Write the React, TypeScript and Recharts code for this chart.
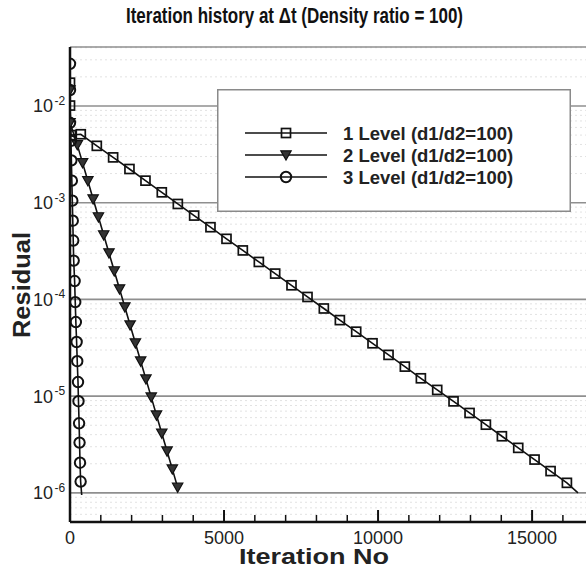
import React from 'react';
import { LineChart, Line, XAxis, YAxis, CartesianGrid, Legend } from 'recharts';

// ---- data ----
const level1Iter = [0, 0, 30, 350, 870, 1400, 1930, 2450, 2980, 3500, 4030, 4560, 5080, 5610, 6130, 6660, 7190, 7710, 8240, 8760, 9290, 9820, 10340, 10870, 11390, 11920, 12450, 12970, 13500, 14020, 14550, 15080, 15600, 16130, 16490];
const level1Res = [1.74e-2, 1.01e-2, 5.0e-3, 5.1e-3, 3.87e-3, 2.94e-3, 2.23e-3, 1.69e-3, 1.28e-3, 9.7e-4, 7.36e-4, 5.58e-4, 4.23e-4, 3.21e-4, 2.44e-4, 1.85e-4, 1.4e-4, 1.06e-4, 8.06e-5, 6.11e-5, 4.64e-5, 3.52e-5, 2.67e-5, 2.02e-5, 1.53e-5, 1.16e-5, 8.83e-6, 6.7e-6, 5.07e-6, 3.85e-6, 2.92e-6, 2.21e-6, 1.68e-6, 1.27e-6, 1.0e-6];

const level2Iter = [0, 0, 237, 408, 580, 751, 923, 1094, 1265, 1437, 1608, 1780, 1951, 2122, 2294, 2465, 2637, 2808, 2979, 3151, 3322, 3494];
const level2Res = [1.46e-2, 6.7e-3, 3.96e-3, 2.58e-3, 1.68e-3, 1.09e-3, 7.12e-4, 4.64e-4, 3.02e-4, 1.97e-4, 1.28e-4, 8.34e-5, 5.43e-5, 3.54e-5, 2.3e-5, 1.5e-5, 9.77e-6, 6.36e-6, 4.14e-6, 2.7e-6, 1.76e-6, 1.14e-6];

const level3Iter = [0, 0, 0, 30, 45, 60, 75, 90, 105, 120, 150, 170, 190, 215, 235, 260, 275, 295, 310, 325, 345, 380];
const level3Res = [2.73e-2, 1.46e-2, 6.7e-3, 4.36e-3, 2.74e-3, 1.69e-3, 1.05e-3, 6.52e-4, 4.06e-4, 2.52e-4, 1.55e-4, 9.38e-5, 5.84e-5, 3.63e-5, 2.3e-5, 1.4e-5, 8.87e-6, 5.24e-6, 3.31e-6, 2.05e-6, 1.31e-6, 9.5e-7];

const seriesNames = ['1 Level (d1/d2=100)', '2 Level (d1/d2=100)', '3 Level (d1/d2=100)'];

const xTicks = [0, 1000, 2000, 3000, 4000, 5000, 6000, 7000, 8000, 9000, 10000, 11000, 12000, 13000, 14000, 15000, 16000];
const xMajorTicks = [0, 5000, 10000, 15000];
const xMajorLabels = ['0', '5000', '10000', '15000'];

const yMajorTicks = [1e-6, 1e-5, 1e-4, 1e-3, 1e-2];
const yTickExponents = ['-6', '-5', '-4', '-3', '-2'];
const yMinorTicks = [
  6e-7, 7e-7, 8e-7, 9e-7,
  2e-6, 3e-6, 4e-6, 5e-6, 6e-6, 7e-6, 8e-6, 9e-6,
  2e-5, 3e-5, 4e-5, 5e-5, 6e-5, 7e-5, 8e-5, 9e-5,
  2e-4, 3e-4, 4e-4, 5e-4, 6e-4, 7e-4, 8e-4, 9e-4,
  2e-3, 3e-3, 4e-3, 5e-3, 6e-3, 7e-3, 8e-3, 9e-3,
  2e-2, 3e-2, 4e-2,
];

const xDomain = [0, 16750];
const yDomain = [5e-7, 0.0407];

const toPoints = (xs: number[], ys: number[]) => xs.map((x, i) => ({ x, y: ys[i] }));
const data1 = toPoints(level1Iter, level1Res);
const data2 = toPoints(level2Iter, level2Res);
const data3 = toPoints(level3Iter, level3Res);

const FONT = '"Liberation Sans", Arial, Helvetica, sans-serif';
const INK = '#111';
const TXT = '#222';

// ---- markers ----
const drawSquare = (cx: number, cy: number, key?: string) => (
  <rect key={key} x={cx - 4.5} y={cy - 4.5} width={9} height={9} fill="none" stroke={INK} strokeWidth={1.7} />
);
const drawTriangle = (cx: number, cy: number, key?: string) => (
  <polygon key={key} points={`${cx - 5.2},${cy - 4.2} ${cx + 5.2},${cy - 4.2} ${cx},${cy + 5}`} fill="#333" stroke={INK} strokeWidth={1.2} />
);
const drawCircle = (cx: number, cy: number, key?: string) => (
  <circle key={key} cx={cx} cy={cy} r={5.2} fill="none" stroke={INK} strokeWidth={2} />
);
const shapes = [drawSquare, drawTriangle, drawCircle];

const makeDot = (shapeIdx: number, count: number, hideLast: boolean) => (props: any) => {
  const { cx, cy, index } = props;
  const key = `d-${shapeIdx}-${index}`;
  if (cx == null || cy == null || (hideLast && index === count - 1)) return <g key={key} />;
  return shapes[shapeIdx](cx, cy, key);
};

// ---- ticks ----
const XTick = (props: any) => {
  const { x, y, payload } = props;
  const v = payload.value as number;
  const mi = xMajorTicks.indexOf(v);
  const major = mi >= 0;
  return (
    <g>
      <line x1={x} x2={x} y1={y} y2={y - (major ? 12 : 7)} stroke={INK} strokeWidth={major ? 2 : 1.5} />
      {major && (
        <text x={x} y={y + 21.5} textAnchor="middle" fontSize={18} fontFamily={FONT} fill={TXT}>
          {xMajorLabels[mi]}
        </text>
      )}
    </g>
  );
};

const YTick = (props: any) => {
  const { x, y, payload } = props;
  const i = yMajorTicks.indexOf(payload.value);
  return (
    <g>
      <text x={x - 17} y={y + 6.5} textAnchor="end" fontSize={18} fontFamily={FONT} fill={TXT}>10</text>
      <text x={x - 15.5} y={y - 1} textAnchor="start" fontSize={12} fontFamily={FONT} fill={TXT}>
        {i >= 0 ? yTickExponents[i] : ''}
      </text>
    </g>
  );
};

// ---- legend ----
const LegendBox = (props: any) => {
  const payload = props.payload || [];
  const rows = [44, 66, 88];
  return (
    <svg width={354} height={123} style={{ display: 'block' }}>
      <rect x={0.75} y={0.75} width={352.5} height={121.5} fill="#fff" stroke="#8a8a8a" strokeWidth={1.5} />
      {payload.map((entry: any, i: number) => (
        <g key={`lg-${i}`}>
          <line x1={28} x2={110} y1={rows[i]} y2={rows[i]} stroke={INK} strokeWidth={1.6} />
          {shapes[i](69, rows[i])}
          <text x={126} y={rows[i] + 6.5} fontSize={18.5} fontWeight="bold" fontFamily={FONT} fill={TXT}>
            {entry.value}
          </text>
        </g>
      ))}
    </svg>
  );
};

export default function App() {
  return (
    <div style={{ position: 'absolute', left: 0, top: 0, width: 586, height: 570, background: '#fff' }}>
      <LineChart width={586} height={570} margin={{ top: 47, right: 0, bottom: 0, left: 0 }}>
        <XAxis
          type="number"
          dataKey="x"
          domain={xDomain}
          allowDataOverflow
          ticks={xTicks}
          interval={0}
          height={48}
          tickSize={0}
          tickMargin={0}
          tickLine={false}
          tick={<XTick />}
          axisLine={{ stroke: INK, strokeWidth: 2.5 }}
          label={() => (
            <text x={314} y={564} textAnchor="middle" fontSize={22} fontWeight="bold" fontFamily={FONT} fill={TXT} textLength={150} lengthAdjust="spacingAndGlyphs">
              Iteration No
            </text>
          )}
        />
        <YAxis
          yAxisId="main"
          type="number"
          dataKey="y"
          scale="log"
          domain={yDomain}
          allowDataOverflow
          ticks={yMajorTicks}
          interval={0}
          width={70}
          tickSize={0}
          tickMargin={0}
          tickLine={false}
          tick={<YTick />}
          axisLine={{ stroke: INK, strokeWidth: 2.5 }}
          label={() => (
            <text x={30} y={285} transform="rotate(-90 30 285)" textAnchor="middle" fontSize={24} fontWeight="bold" fontFamily={FONT} fill={TXT} textLength={106} lengthAdjust="spacingAndGlyphs">
              Residual
            </text>
          )}
        />
        <YAxis yAxisId="minor" type="number" dataKey="y" scale="log" domain={yDomain} allowDataOverflow ticks={yMinorTicks} interval={0} hide />
        <CartesianGrid yAxisId="minor" vertical={false} stroke="#e2e2e2" strokeDasharray="2 3" strokeWidth={1} />
        <CartesianGrid yAxisId="main" vertical={false} stroke="#8f8f8f" strokeWidth={1.6} />
        <Line yAxisId="main" data={data1} dataKey="y" name={seriesNames[0]} type="linear" stroke={INK} strokeWidth={1.6} dot={makeDot(0, data1.length, true)} activeDot={false} isAnimationActive={false} />
        <Line yAxisId="main" data={data2} dataKey="y" name={seriesNames[1]} type="linear" stroke={INK} strokeWidth={1.6} dot={makeDot(1, data2.length, false)} activeDot={false} isAnimationActive={false} />
        <Line yAxisId="main" data={data3} dataKey="y" name={seriesNames[2]} type="linear" stroke={INK} strokeWidth={1.6} dot={makeDot(2, data3.length, true)} activeDot={false} isAnimationActive={false} />
        <Legend
          layout="vertical"
          align="center"
          verticalAlign="middle"
          content={<LegendBox />}
          wrapperStyle={{ left: 217, top: 89, width: 354, height: 123, bottom: 'auto', right: 'auto' }}
        />
      </LineChart>
      <svg width={586} height={40} style={{ position: 'absolute', left: 0, top: 0 }}>
        <text x={294.5} y={23} textAnchor="middle" fontSize={22} fontWeight="bold" fontFamily={FONT} fill="#111" textLength={337} lengthAdjust="spacingAndGlyphs">
          Iteration history at Δt (Density ratio = 100)
        </text>
      </svg>
    </div>
  );
}
